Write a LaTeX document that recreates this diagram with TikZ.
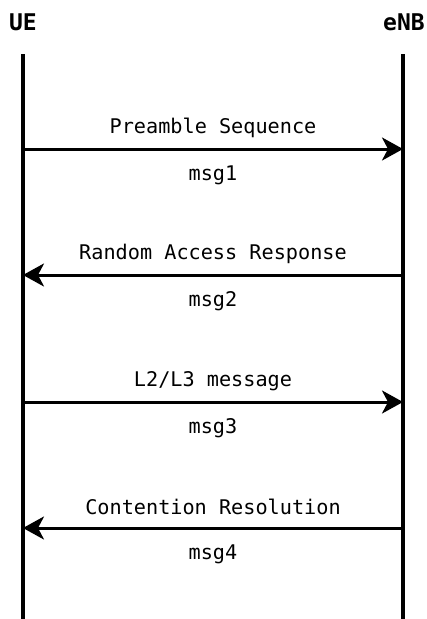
\documentclass[tikz,border=0pt]{standalone}
\usepackage{fontspec}
\setmonofont{DejaVu Sans Mono}
\usetikzlibrary{arrows.meta}
\begin{document}
\begin{tikzpicture}[x=1pt,y=-1pt,
  lifeline/.style={line width=4pt},
  msg/.style={line width=3pt,-{Stealth[length=21pt,width=23pt,inset=6pt]}},
  head/.style={font=\fontsize{23}{26}\selectfont\ttfamily\bfseries,inner sep=0pt},
  lbl/.style={font=\fontsize{20.2}{24}\selectfont\ttfamily,inner sep=0pt}]
\useasboundingbox (0,0) rectangle (427,619);
\node[head] (ue) at (23,22) {UE};
\node[head] (enb) at (404,22) {eNB};
\coordinate (ueT) at (23,54); \coordinate (ueB) at (23,619);
\coordinate (enT) at (403,54); \coordinate (enB) at (403,619);
\draw[lifeline] (ueT) -- (ueB);
\draw[lifeline] (enT) -- (enB);
\foreach \y/\n in {149/1,275/2,402/3,528/4}{
  \coordinate (u\n) at (23,\y);
  \coordinate (e\n) at (403,\y);
}
\draw[msg] (u1) -- (e1);
\draw[msg] (e2) -- (u2);
\draw[msg] (u3) -- (e3);
\draw[msg] (e4) -- (u4);
\node[lbl] (t1) at (213,128) {Preamble Sequence};
\node[lbl] (m1) at (213,175) {msg1};
\node[lbl] (t2) at (213,254) {Random Access Response};
\node[lbl] (m2) at (213,301) {msg2};
\node[lbl] (t3) at (213,381) {L2/L3 message};
\node[lbl] (m3) at (213,428) {msg3};
\node[lbl] (t4) at (213,507) {Contention Resolution};
\node[lbl] (m4) at (213,554) {msg4};
\end{tikzpicture}
\end{document}
